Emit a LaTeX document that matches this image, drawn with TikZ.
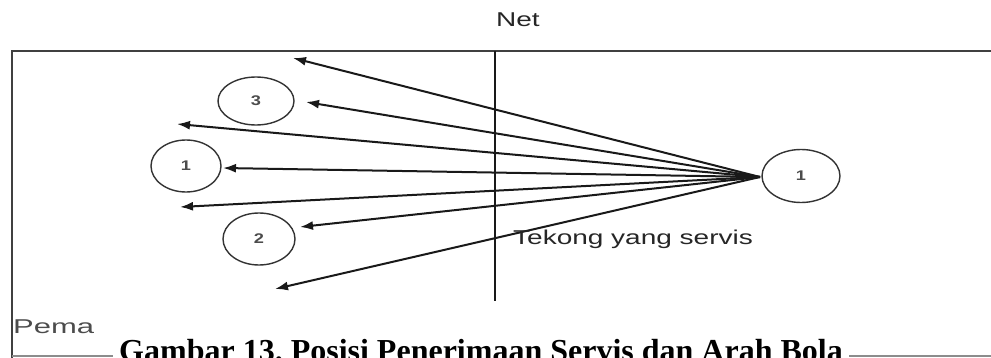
\documentclass[tikz,border=0pt]{standalone}
\usepackage{fontspec}
\usepackage{graphicx}
\setmainfont{Liberation Serif}
\newfontfamily\arialfont{Liberation Sans}
\usetikzlibrary{arrows.meta,shapes.geometric}
\tikzset{
  frameline/.style={draw=black!75, line width=1.8pt},
  netline/.style={draw=black!90, line width=1.6pt},
  player/.style={ellipse, draw=black!80, line width=1.4pt, inner sep=0pt, fill=white,
    font=\arialfont\fontsize{14}{14}\selectfont\bfseries, text=black!70},
  ballarrow/.style={draw=black!90, line width=2pt, -{Latex[length=13pt,width=9pt]}},
  lbl/.style={font=\arialfont\fontsize{20}{20}\selectfont, text=black!85, inner sep=0pt},
}
\begin{document}
\begin{tikzpicture}[x=1pt,y=-1pt]
\useasboundingbox (0,0) rectangle (991,358);
% court frame
\draw[frameline] (991,51) -- (12,51) -- (12,360);
\draw[draw=black!45, line width=1.6pt] (12,356) -- (991,356);
% net
\draw[netline] (495,51) -- (495,301);
% labels
\node[lbl, anchor=base west] (net) at (496,27) {\scalebox{1.4}[1]{Net}};
\node[lbl, anchor=base west, text=black!70] (pema) at (13,333) {\scalebox{1.55}[1]{Pema}};
% players
\node[player, minimum width=76pt, minimum height=48pt] (c3) at (256,101) {\scalebox{1.3}[1]{3}};
\node[player, minimum width=70pt, minimum height=52pt] (c1) at (186,166) {\scalebox{1.3}[1]{1}};
\node[player, minimum width=72pt, minimum height=52pt] (c2) at (259,239) {\scalebox{1.3}[1]{2}};
\node[player, minimum width=78pt, minimum height=53pt] (ball) at (801,176) {\scalebox{1.3}[1]{1}};
% arrow tips
\coordinate (t1) at (293,58);
\coordinate (t2) at (306,102);
\coordinate (t3) at (177,124);
\coordinate (t4) at (223,168);
\coordinate (t5) at (180,207);
\coordinate (t6) at (300,227);
\coordinate (t7) at (275,289);
\coordinate (o) at (760,177);
\foreach \t in {t1,t2,t3,t4,t5,t6,t7} \draw[ballarrow] (o) -- (\t);
\node[lbl, anchor=base west] (tekong) at (513,245) {\scalebox{1.4}[1]{Tekong yang servis}};
% caption
\node[anchor=base west, fill=white, inner xsep=6pt, inner ysep=4pt,
  font=\fontsize{32}{32}\selectfont\bfseries] (cap) at (113,361)
  {Gambar 13.\ Posisi Penerimaan Servis dan Arah Bola};
\end{tikzpicture}
\end{document}
